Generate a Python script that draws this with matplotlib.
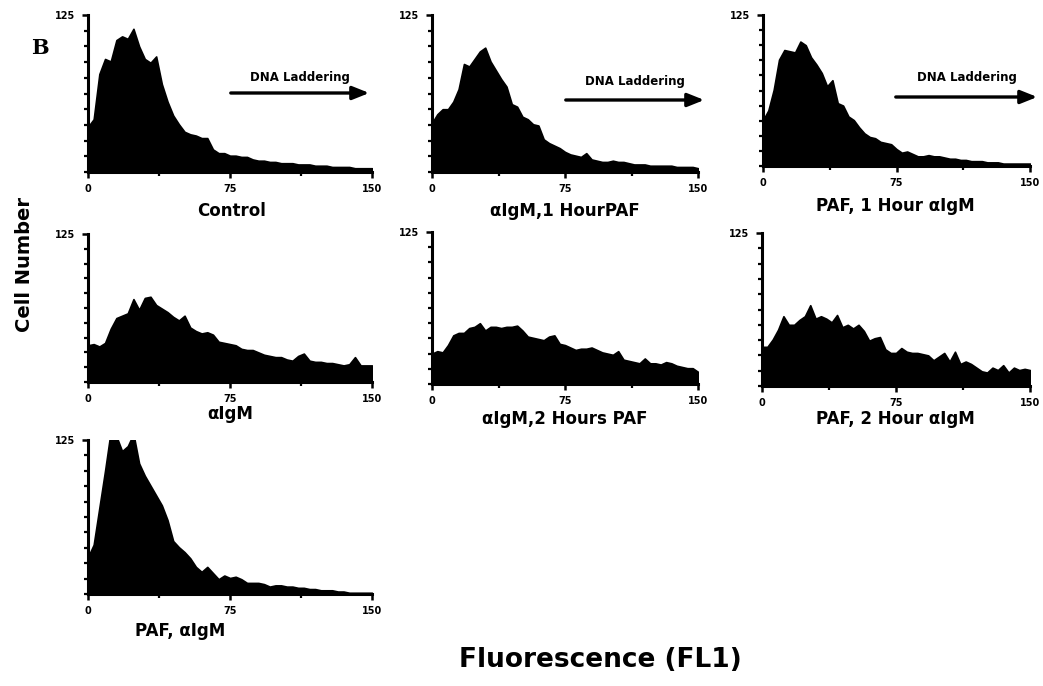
"""Flow cytometry histograms (panel B): cell number vs fluorescence FL1."""
import numpy as np
import matplotlib
matplotlib.use("Agg")
import matplotlib.pyplot as plt
from matplotlib.ticker import FixedLocator, MultipleLocator

W, H = 1043, 686

# channel grid (FL1) shared by every histogram
fl1 = np.arange(0, 151, 3)

control = [36, 42, 78, 90, 88, 105, 108, 106, 114, 100, 90, 87, 92, 70, 56, 45, 38,
           32, 30, 29, 27, 27, 18, 15, 15, 13, 13, 12, 12, 10, 9, 9, 8, 8, 7, 7, 7,
           6, 6, 6, 5, 5, 5, 4, 4, 4, 4, 3, 3, 3, 3]
igm_1h_paf = [39, 46, 50, 50, 56, 66, 86, 84, 90, 96, 99, 88, 81, 74, 68, 54, 52,
              44, 42, 38, 37, 26, 23, 21, 19, 16, 14, 13, 12, 15, 10, 9, 8, 8, 9, 8,
              8, 7, 6, 6, 6, 5, 5, 5, 5, 5, 4, 4, 4, 4, 3]
paf_1h_igm = [38, 46, 63, 88, 96, 95, 94, 103, 100, 90, 84, 77, 66, 71, 52, 50, 41,
              38, 32, 27, 24, 23, 20, 19, 18, 14, 11, 12, 10, 8, 8, 9, 8, 8, 7, 6,
              6, 5, 5, 4, 4, 4, 3, 3, 3, 2, 2, 2, 2, 2, 2]
igm = [31, 32, 30, 33, 45, 54, 56, 58, 70, 61, 71, 72, 65, 62, 59, 55, 52, 56, 46,
       43, 41, 42, 40, 34, 33, 32, 31, 28, 27, 27, 25, 23, 22, 21, 21, 19, 18, 22,
       24, 18, 17, 17, 16, 16, 15, 14, 15, 21, 14, 14, 14]
igm_2h_paf = [25, 27, 26, 32, 40, 42, 42, 46, 47, 50, 44, 47, 47, 46, 47, 47, 48,
              44, 39, 38, 37, 36, 39, 40, 33, 32, 30, 28, 29, 29, 30, 28, 26, 25,
              24, 27, 20, 19, 18, 17, 21, 17, 17, 16, 18, 17, 15, 14, 13, 13, 10]
paf_2h_igm = [32, 32, 38, 46, 57, 50, 50, 54, 57, 66, 55, 57, 55, 52, 58, 48, 50,
              47, 50, 45, 37, 39, 40, 30, 27, 27, 31, 28, 27, 27, 26, 25, 21, 24,
              27, 20, 28, 18, 20, 18, 15, 12, 11, 15, 13, 17, 11, 15, 13, 14, 13]
paf_igm = [30, 40, 70, 100, 132, 128, 116, 120, 130, 106, 96, 88, 80, 72, 60, 43,
           38, 34, 29, 22, 18, 22, 17, 12, 15, 13, 14, 12, 9, 9, 9, 8, 6, 7, 7, 6,
           6, 5, 5, 4, 4, 3, 3, 3, 2, 2, 1, 1, 1, 1, 1]

titles = ["Control", "αIgM,1 HourPAF", "PAF, 1 Hour αIgM",
          "αIgM", "αIgM,2 Hours PAF", "PAF, 2 Hour αIgM", "PAF, αIgM"]
series = [control, igm_1h_paf, paf_1h_igm, igm, igm_2h_paf, paf_2h_igm, paf_igm]

# axes boxes in pixels: left, top, right, bottom
boxes = [(88, 15, 372, 172), (432, 15, 698, 172), (763, 15, 1030, 166),
         (88, 234, 372, 382), (432, 232, 698, 384), (762, 233, 1030, 386),
         (88, 440, 372, 594)]
# title centres in pixels
title_pos = [(232, 211), (565, 211), (895, 206), (230, 414), (565, 419),
             (895, 419), (180, 631)]
# "DNA Laddering" arrows: x0, x1, y, text y
arrows = [(228, 372, 93, 78), (563, 707, 100, 82), (893, 1040, 97, 77)]


def fx(px):
    return px / W


def fy(py):
    return 1 - py / H


fig = plt.figure(figsize=(W / 100, H / 100), dpi=100)

for (l, t, r, b), vals, title, (tx, ty) in zip(boxes, series, titles, title_pos):
    ax = fig.add_axes([fx(l), fy(b), (r - l) / W, (b - t) / H])
    ax.fill_between(fl1, vals, 0, color="black", lw=1.2, edgecolor="black")
    ax.set_xlim(0, 150)
    ax.set_ylim(0, 125)
    for s in ("top", "right"):
        ax.spines[s].set_visible(False)
    for s in ("left", "bottom"):
        ax.spines[s].set_linewidth(2.2)
    ax.xaxis.set_major_locator(FixedLocator([0, 75, 150]))
    ax.yaxis.set_major_locator(FixedLocator([125]))
    ax.yaxis.set_minor_locator(MultipleLocator(12.5))
    ax.xaxis.set_minor_locator(MultipleLocator(37.5))
    ax.tick_params(axis="both", which="major", length=4, width=1.8, pad=5,
                   labelsize=7)
    ax.tick_params(axis="both", which="minor", length=3, width=1.6)
    for lab in ax.get_xticklabels() + ax.get_yticklabels():
        lab.set_fontweight("bold")
    fig.text(fx(tx), fy(ty), title, ha="center", va="center", fontsize=12,
             fontweight="bold")

for x0, x1, y, ty in arrows:
    fig.text(fx((x0 + x1) / 2), fy(ty), "DNA Laddering", ha="center",
             va="center", fontsize=8.5, fontweight="bold")
    fig.add_artist(matplotlib.patches.FancyArrowPatch(
        (fx(x0), fy(y)), (fx(x1), fy(y)), transform=fig.transFigure,
        arrowstyle="-|>,head_length=10,head_width=4", lw=2.4, color="black",
        mutation_scale=1))

fig.text(fx(25), fy(265), "Cell Number", rotation=90, ha="center", va="center",
         fontsize=14, fontweight="bold")
fig.text(fx(600), fy(660), "Fluorescence (FL1)", ha="center", va="center",
         fontsize=19, fontweight="bold")
fig.text(fx(40), fy(48), "B", ha="center", va="center", fontsize=15,
         fontweight="bold", family="DejaVu Serif")

fig.savefig("out.png", dpi=100)
